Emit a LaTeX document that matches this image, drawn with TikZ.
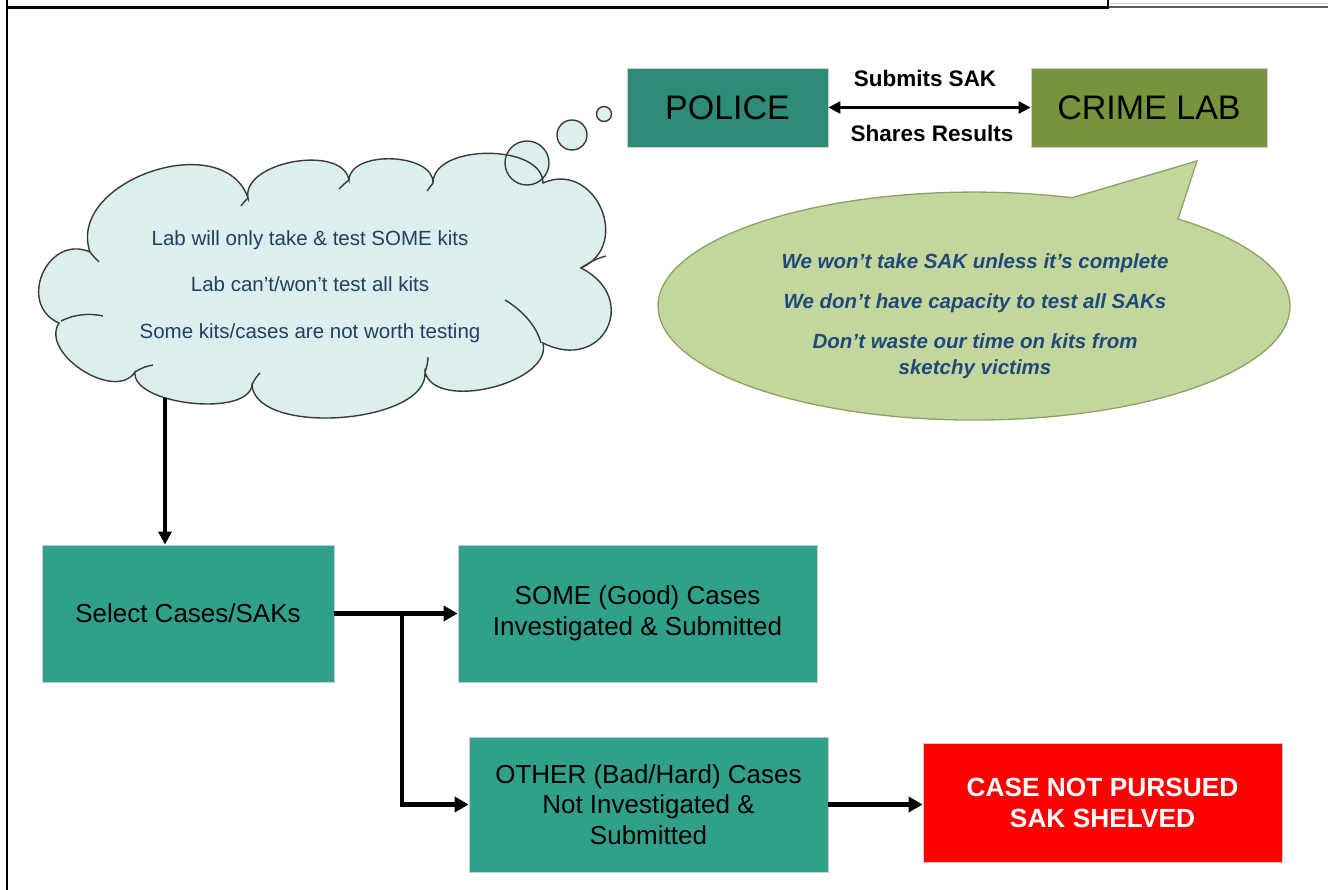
\documentclass[tikz,border=0pt]{standalone}
\usepackage{fontspec}
\setmainfont{Liberation Sans}
\usetikzlibrary{arrows.meta,calc}

\definecolor{policeteal}{HTML}{2E8B78}
\definecolor{flowteal}{HTML}{31A08B}
\definecolor{labolive}{HTML}{77933C}
\definecolor{cloudfill}{HTML}{DAEFEE}
\definecolor{cloudline}{HTML}{3A3A3A}
\definecolor{calloutfill}{HTML}{C3D69B}
\definecolor{calloutline}{HTML}{8FA066}
\definecolor{cloudtext}{HTML}{243F60}
\definecolor{callouttext}{HTML}{1F497D}
\definecolor{alertred}{HTML}{FF0000}

\begin{document}
\begin{tikzpicture}[x=1pt,y=-1pt,
  box/.style={draw=gray!40,line width=0.8pt,inner sep=0pt,align=center,
    font=\fontsize{26}{30.5}\selectfont},
  agency/.style={draw=gray!40,line width=0.8pt,inner sep=0pt,
    font=\fontsize{34}{38}\selectfont},
  flow/.style={line width=4.2pt,-{Triangle[length=14pt,width=15pt]}},
  thinflow/.style={line width=3.2pt,-{Triangle[length=13pt,width=13pt]}},
  cloudstroke/.style={draw=cloudline,line width=1.4pt},
  edgelabel/.style={font=\fontsize{22.5}{26}\selectfont\bfseries,inner sep=0pt}
]
\useasboundingbox (0,0) rectangle (1328,890);

% page frame
\draw[line width=2.5pt] (7,0) -- (7,890);
\draw[line width=3pt] (6,8) -- (1108,8);
\draw[line width=2.5pt] (1108,0) -- (1108,9.5);
\draw[gray!35,line width=1pt] (1109,4) -- (1328,4);
\draw[gray!70!black,line width=1.8pt] (1109,7) -- (1328,7);

% agencies
\node[agency,fill=policeteal,minimum width=201pt,minimum height=79pt] (police) at (727.5,107.5) {POLICE};
\node[agency,fill=labolive,minimum width=236pt,minimum height=79pt] (lab) at (1149,107.5) {CRIME LAB};
\draw[line width=2.8pt,{Triangle[length=12pt,width=12pt]}-{Triangle[length=12pt,width=12pt]}] (police.east) -- (lab.west);
\node[edgelabel] (submits) at (925,78) {Submits SAK};
\node[edgelabel] (shares) at (932,133) {Shares Results};

% thought cloud
\coordinate (v1) at (90,252);
\coordinate (v2) at (248,198);
\coordinate (v3) at (349,180);
\coordinate (v4) at (433,183);
\coordinate (v5) at (543,183);
\coordinate (v6) at (581,268);
\coordinate (v7) at (543,343);
\coordinate (v8) at (425,372);
\coordinate (v9) at (252,385);
\coordinate (v10) at (135,372);
\coordinate (v11) at (59,323);

\fill[cloudfill] (604,114) circle[radius=7.5] (572,135) circle[radius=15] (527,163) circle[radius=22];

\filldraw[fill=cloudfill,cloudstroke] (v11)
  .. controls ($(v11)!0.60!90:(v1)$) and ($(v1)!0.60!-90:(v11)$) .. (v1)
  .. controls ($(v1)!0.45!90:(v2)$) and ($(v2)!0.45!-90:(v1)$) .. (v2)
  .. controls ($(v2)!0.36!90:(v3)$) and ($(v3)!0.36!-90:(v2)$) .. (v3)
  .. controls ($(v3)!0.36!90:(v4)$) and ($(v4)!0.36!-90:(v3)$) .. (v4)
  .. controls ($(v4)!0.36!90:(v5)$) and ($(v5)!0.36!-90:(v4)$) .. (v5)
  .. controls ($(v5)!0.61!90:(v6)$) and ($(v6)!0.61!-90:(v5)$) .. (v6)
  .. controls ($(v6)!0.80!90:(v7)$) and ($(v7)!0.80!-90:(v6)$) .. (v7)
  .. controls ($(v7)!0.34!90:(v8)$) and ($(v8)!0.34!-90:(v7)$) .. (v8)
  .. controls ($(v8)!0.30!90:(v9)$) and ($(v9)!0.30!-90:(v8)$) .. (v9)
  .. controls ($(v9)!0.28!90:(v10)$) and ($(v10)!0.28!-90:(v9)$) .. (v10)
  .. controls ($(v10)!0.40!90:(v11)$) and ($(v11)!0.40!-90:(v10)$) .. (v11)
  -- cycle;

% inner strokes of the cloud
\draw[cloudstroke] (61,321) .. controls (75,314) and (90,313) .. (103,316);
\draw[cloudstroke] (505,300) .. controls (525,312) and (537,328) .. (541,343);
\draw[cloudstroke] (581,268) .. controls (590,262) and (598,258) .. (606,256);
\draw[cloudstroke] (135,372) .. controls (141,368) and (147,366) .. (153,365);
\draw[cloudstroke] (252,385) .. controls (254,380) and (257,376) .. (260,373);
\draw[cloudstroke] (425,372) .. controls (427,366) and (428,362) .. (428,357);
\draw[cloudstroke] (90,252) .. controls (93,256) and (96,259) .. (99,262);
\draw[cloudstroke] (248,198) .. controls (245,201) and (243,203) .. (241,206);
\draw[cloudstroke] (349,180) .. controls (345,183) and (342,186) .. (339,189);
\draw[cloudstroke] (433,183) .. controls (431,186) and (429,188) .. (427,191);

\draw[cloudstroke] (604,114) circle[radius=7.5] (572,135) circle[radius=15] (527,163) circle[radius=22];

\node[font=\fontsize{20.5}{46.5}\selectfont,text=cloudtext,align=center,inner sep=0pt] (cloudtxt) at (310,286.5)
  {Lab will only take \& test SOME kits\\Lab can’t/won’t test all kits\\Some kits/cases are not worth testing};

% lab speech callout
\filldraw[fill=calloutfill,draw=calloutline,line width=1.3pt]
  (1178,219) arc[start angle=-49.8,end angle=288.1,x radius=316,y radius=114] -- (1197,161) -- cycle;
\node[font=\fontsize{20.5}{26}\selectfont\bfseries\itshape,text=callouttext,align=center,inner sep=0pt] (labtxt) at (975,316.5)
  {We won’t take SAK unless it’s complete\\[14pt]We don’t have capacity to test all SAKs\\[14pt]Don’t waste our time on kits from\\sketchy victims};

% case flow
\coordinate (cloudfoot) at (165,398);
\node[box,fill=flowteal,minimum width=292pt,minimum height=137pt] (select) at (188,613.5) {Select Cases/SAKs};
\node[box,fill=flowteal,minimum width=359pt,minimum height=137pt] (some) at (637.5,613.5) {SOME (Good) Cases\\Investigated \& Submitted};
\node[box,fill=flowteal,minimum width=359pt,minimum height=135pt] (other) at (648.5,804.5) {OTHER (Bad/Hard) Cases\\Not Investigated \&\\Submitted};
\node[box,fill=alertred,text=white,font=\fontsize{26.3}{31}\selectfont\bfseries,minimum width=359pt,minimum height=119pt] (shelved) at (1102.5,802.5) {CASE NOT PURSUED\\SAK SHELVED};

\draw[thinflow] (cloudfoot) -- (cloudfoot |- select.north);
\coordinate (fork) at (402,613.5);
\draw[flow] (select.east) -- (some.west);
\draw[flow] (fork) |- (other.west);
\draw[flow] (other.east) -- (other.east -| shelved.west);
\end{tikzpicture}
\end{document}
